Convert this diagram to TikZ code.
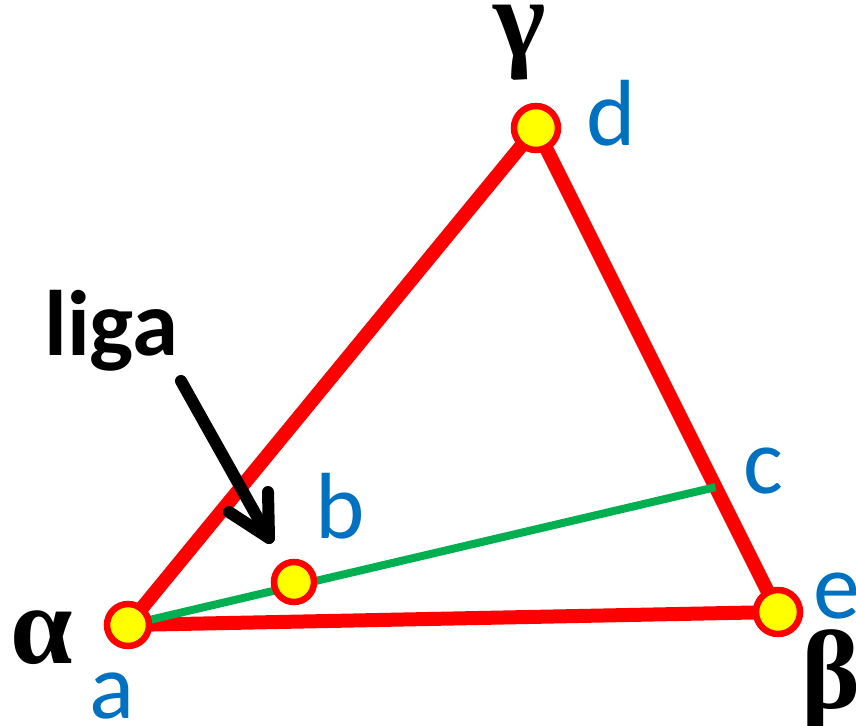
\documentclass[tikz,border=0pt]{standalone}
\usepackage{fontspec}
\setmainfont{Carlito}
\newfontfamily\greekfont{Liberation Serif}
\usetikzlibrary{calc}
\definecolor{lred}{RGB}{255,0,0}
\definecolor{lgreen}{RGB}{0,176,80}
\definecolor{lyellow}{RGB}{255,255,0}
\definecolor{lblue}{RGB}{0,112,192}
\begin{document}
\begin{tikzpicture}[x=1pt,y=-1pt,
  edge/.style={draw=lred,line width=14pt,line cap=round},
  pt/.style={circle,draw=lred,fill=lyellow,line width=6.5pt,minimum size=42pt,inner sep=0pt},
  lbl/.style={text=lblue,font=\fontsize{94}{94}\selectfont,inner sep=0pt},
  grk/.style={text=black,font=\greekfont\bfseries\fontsize{112}{112}\selectfont,inner sep=0pt}]
\path[use as bounding box] (0,0) rectangle (856,725);
\coordinate (A) at (128,625);
\coordinate (D) at (536,128);
\coordinate (E) at (778,612);
\coordinate (C) at ($(D)!0.742!(E)$);
\coordinate (B) at (294,582);
\draw[edge] (A) -- (D) -- (E) -- cycle;
\draw[lgreen,line width=8pt] (A) -- (C);
\node[pt] (a) at (A) {};
\node[pt,minimum size=40pt] (b) at (B) {};
\node[pt,minimum size=44pt] (d) at (D) {};
\node[pt,minimum size=44pt] (e) at (E) {};
% arrow
\coordinate (s) at (181,381);
\coordinate (t) at (269,538);
\coordinate (h1) at (268,492);
\coordinate (h2) at (229,512);
\draw[line width=12pt,line cap=round,line join=round] (s) -- (t);
\draw[line width=12pt,line cap=round,line join=round] (h1) -- (t) -- (h2);
\node[anchor=base west,font=\bfseries\fontsize{93}{93}\selectfont,inner sep=0pt] (liga) at (44,355) {liga};
\node[lbl,anchor=base] (la) at (112,718) {a};
\node[lbl,anchor=base] (lb) at (340,538) {b};
\node[lbl,anchor=base] (lc) at (763,493) {c};
\node[lbl,anchor=base] (ld) at (611,145) {d};
\node[lbl,anchor=base] (le) at (837,618) {e};
\node[grk] (al) at (42,638) {α};
\node[grk] (be) at (831,681) {β};
\node[grk] (ga) at (520,43) {γ};
\end{tikzpicture}
\end{document}
